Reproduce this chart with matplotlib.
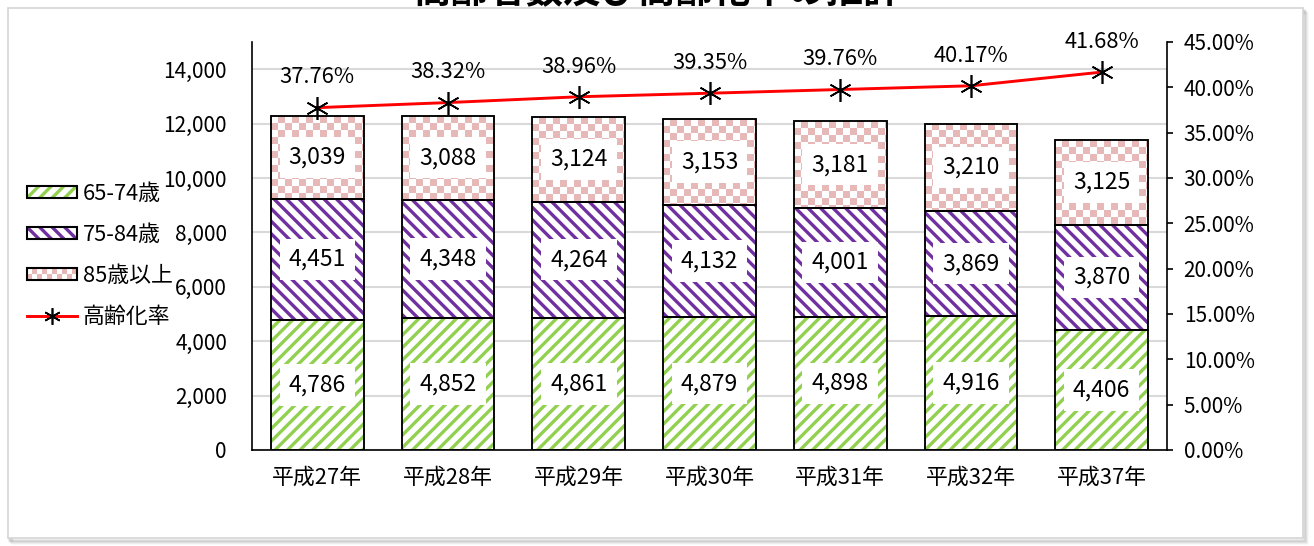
import numpy as np
import matplotlib
matplotlib.use("Agg")
import matplotlib.pyplot as plt
from matplotlib.colors import ListedColormap
from matplotlib.patches import Rectangle, Patch
from matplotlib.lines import Line2D
from matplotlib.legend_handler import HandlerBase

plt.rcParams['font.family'] = ['Noto Sans CJK JP', 'DejaVu Sans']
plt.rcParams['hatch.linewidth'] = 1.6

# data
years = ["平成27年", "平成28年", "平成29年", "平成30年", "平成31年", "平成32年", "平成37年"]
age_65_74 = [4786, 4852, 4861, 4879, 4898, 4916, 4406]
age_75_84 = [4451, 4348, 4264, 4132, 4001, 3869, 3870]
age_85_up = [3039, 3088, 3124, 3153, 3181, 3210, 3125]
aging_rate = [37.76, 38.32, 38.96, 39.35, 39.76, 40.17, 41.68]

GREEN = '#92D050'
PURPLE = '#7030A0'
PINK = '#E6B9B8'

W, H, DPI = 1314, 546, 150
fig = plt.figure(figsize=(W / DPI, H / DPI), dpi=DPI)

# outer chart frame with a soft shadow
for i, a in enumerate([0.10, 0.07, 0.05, 0.03]):
    fig.patches.append(Rectangle(((9 + i) / W, (6 - i) / H), 1295 / W, 530 / H,
                                 transform=fig.transFigure, fill=False,
                                 edgecolor='black', alpha=a, lw=1.2, zorder=-2))
fig.patches.append(Rectangle((8 / W, 8 / H), 1295 / W, 530 / H, transform=fig.transFigure,
                             facecolor='white', edgecolor='#d4d4d4', lw=0.8, zorder=-1))

fig.text(657 / W, 1.016, "高齢者数及び高齢化率の推計", ha='center', va='center',
         fontsize=18, fontweight='bold')

ax = fig.add_axes([252 / W, 96 / H, 915 / W, 408 / H])
ax.patch.set_alpha(0)
x = np.arange(len(years))
bw = 0.71

g = np.array(age_65_74)
p = np.array(age_75_84)
k = np.array(age_85_up)

HATCH_G = '////'
HATCH_P = '\\\\\\\\'

ax.bar(x, g, bw, color='white', edgecolor=GREEN, hatch=HATCH_G, lw=0, zorder=2)
ax.bar(x, p, bw, bottom=g, color='white', edgecolor=PURPLE, hatch=HATCH_P, lw=0, zorder=2)
ax.bar(x, k, bw, bottom=g + p, color='white', lw=0, zorder=2)

ax.set_xlim(-0.5, len(years) - 0.5)
ax.set_ylim(0, 15000)

# checkerboard fill for the 85+ segments
cell = 7.0
px_per_x = 915 / len(years)
px_per_y = 408 / 15000
cmap = ListedColormap(['white', PINK])
for xi, b, h in zip(x, g + p, k):
    nx = int(np.ceil(bw * px_per_x / cell))
    ny = int(np.ceil(h * px_per_y / cell))
    board = (np.add.outer(np.arange(ny), np.arange(nx)) % 2)
    x0 = xi - bw / 2
    top = b + h
    im = ax.imshow(board, cmap=cmap, interpolation='nearest', aspect='auto',
                   extent=(x0, x0 + nx * cell / px_per_x, top - ny * cell / px_per_y, top),
                   zorder=2.1)
    clip = Rectangle((x0, b), bw, h, transform=ax.transData)
    im.set_clip_path(clip)

ax.set_xlim(-0.5, len(years) - 0.5)
ax.set_ylim(0, 15000)

# outlines
for vals, base in [(g, 0), (p, g), (k, g + p)]:
    ax.bar(x, vals, bw, bottom=base, fill=False, edgecolor='black', lw=0.9, zorder=3)

# segment labels
for vals, base in [(g, 0), (p, g), (k, g + p)]:
    for xi, v, b in zip(x, vals, np.broadcast_to(base, vals.shape)):
        ax.text(xi, b + v / 2, f"{v:,}", ha='center', va='center', fontsize=11, zorder=4,
                bbox=dict(boxstyle='square,pad=0.4', facecolor='white', edgecolor='none'))

ax.set_yticks(np.arange(0, 14001, 2000))
ax.set_yticklabels([f"{v:,}" for v in range(0, 14001, 2000)])
ax.set_xticks(x)
ax.set_xticklabels(years)
ax.tick_params(axis='y', length=0, pad=12, labelsize=10)
ax.tick_params(axis='x', length=0, pad=8, labelsize=10.5)
ax.yaxis.grid(True, color='#d9d9d9', lw=1.0)
ax.set_axisbelow(True)
for s in ['top', 'right']:
    ax.spines[s].set_visible(False)
ax.spines['left'].set_linewidth(0.8)
ax.spines['bottom'].set_linewidth(0.8)

ax2 = ax.twinx()
ax2.set_ylim(0, 45)
ax2.set_yticks(np.arange(0, 46, 5))
ax2.set_yticklabels([f"{v:.2f}%" for v in range(0, 46, 5)])
ax2.tick_params(axis='y', length=3, width=0.8, pad=5, labelsize=10)
for s in ['top', 'left', 'bottom']:
    ax2.spines[s].set_visible(False)
ax2.spines['right'].set_linewidth(0.8)

star = (6, 2, 0)
ax2.plot(x, aging_rate, color='red', lw=1.4, marker=star, ms=11,
         mec='black', mfc='black', mew=0.8, zorder=5)
for xi, r in zip(x, aging_rate):
    ax2.annotate(f"{r:.2f}%", (xi, r), xytext=(0, 14.5), textcoords='offset points',
                 ha='center', va='center', fontsize=10.5)


class CheckerHandler(HandlerBase):
    def create_artists(self, legend, orig_handle, xdescent, ydescent, width, height,
                       fontsize, trans):
        arts = []
        ncol, nrow = 10, 2
        cw, ch = width / ncol, height / nrow
        for i in range(ncol):
            for j in range(nrow):
                if (i + j) % 2 == 0:
                    arts.append(Rectangle((-xdescent + i * cw, -ydescent + j * ch), cw, ch,
                                          facecolor=PINK, edgecolor='none', transform=trans))
        arts.append(Rectangle((-xdescent, -ydescent), width, height, fill=False,
                              edgecolor='black', lw=1.0, transform=trans))
        return arts


h_green = (Patch(facecolor='white', edgecolor=GREEN, hatch=HATCH_G, lw=0),
           Patch(fill=False, edgecolor='black', lw=1.0))
h_purple = (Patch(facecolor='white', edgecolor=PURPLE, hatch=HATCH_P, lw=0),
            Patch(fill=False, edgecolor='black', lw=1.0))
h_pink = Patch(facecolor='white', edgecolor='black')
h_line = Line2D([], [], color='red', lw=1.4, marker=star, ms=8, mec='black', mew=0.8)

fig.legend([h_green, h_purple, h_pink, h_line], ["65-74歳", "75-84歳", "85歳以上", "高齢化率"],
           loc='upper left', bbox_to_anchor=(27 / W, 1 - 183 / H), frameon=False,
           fontsize=10.5, handlelength=2.3, handleheight=0.45, handletextpad=0.25,
           labelspacing=0.87, borderpad=0, borderaxespad=0,
           handler_map={h_pink: CheckerHandler()})

fig.savefig("out.png", dpi=DPI)
